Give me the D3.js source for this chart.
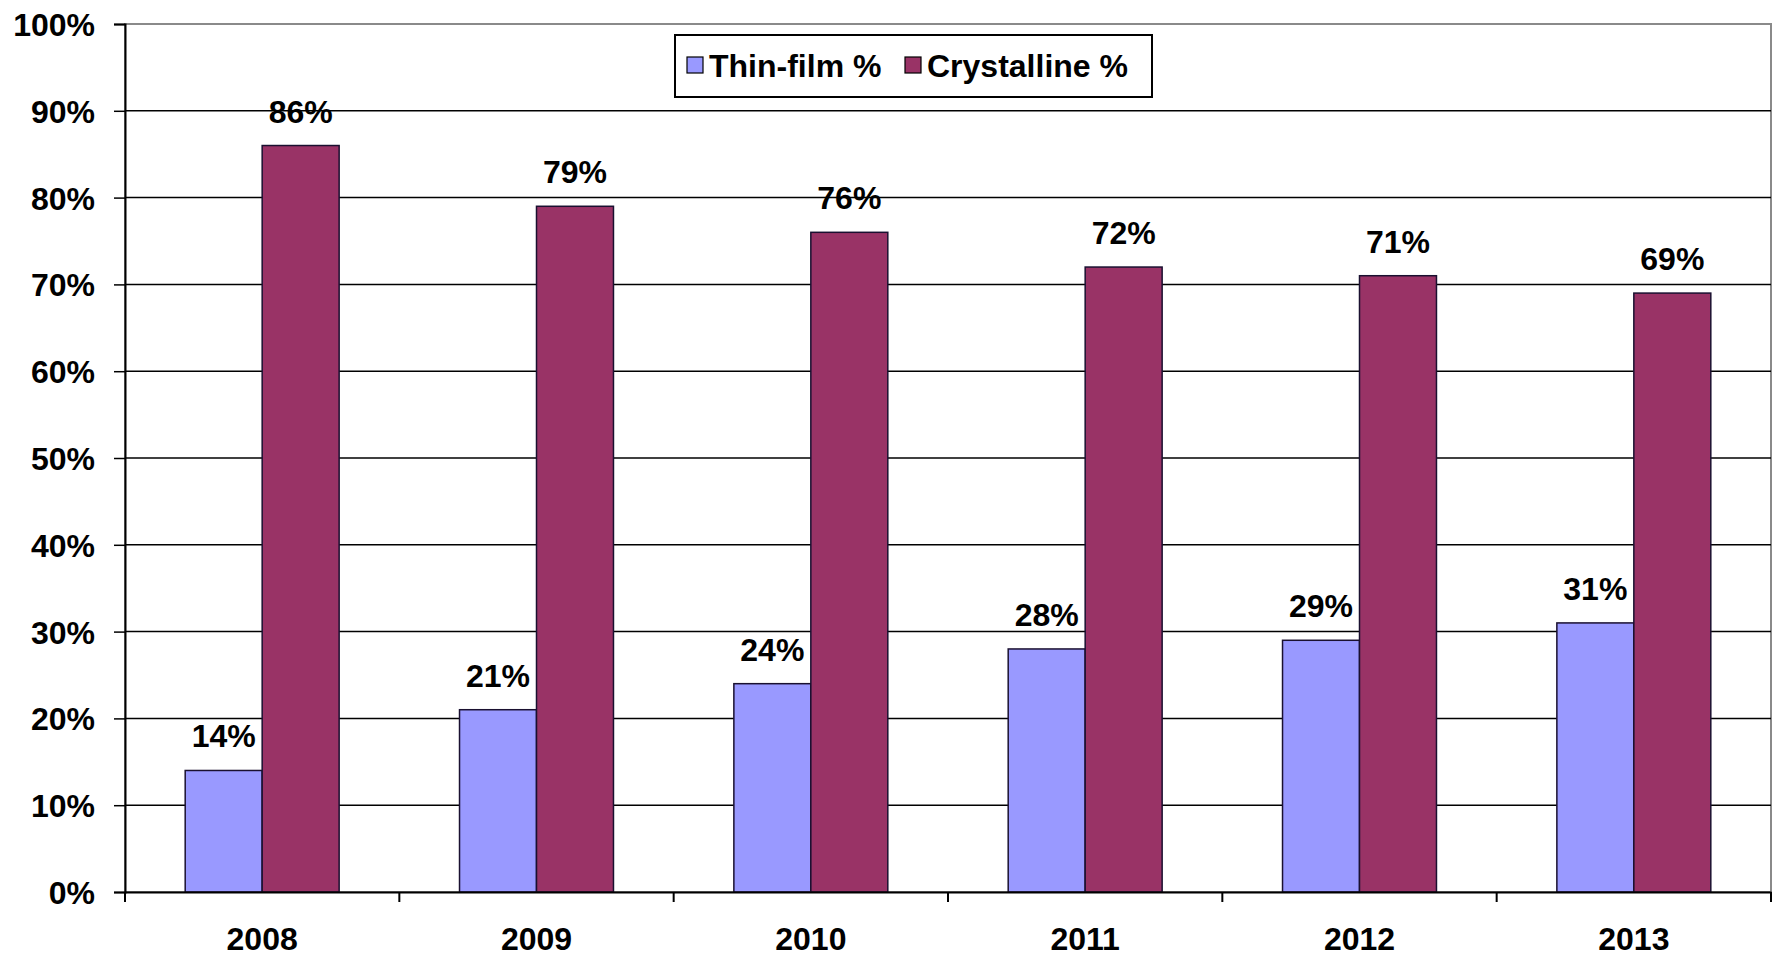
<!DOCTYPE html>
<html>
<head>
<meta charset="utf-8">
<script src="https://cdn.jsdelivr.net/npm/d3@7"></script>
<style>
  html, body { margin: 0; padding: 0; background: #fff; }
  svg { display: block; }
  text { font-family: "Liberation Sans", Arial, sans-serif; font-weight: bold; fill: #000; }
</style>
</head>
<body>
<svg id="chart" width="1775" height="956"></svg>
<script>
// Market share of PV technologies by year
const years = ["2008", "2009", "2010", "2011", "2012", "2013"];
const thinFilm = [14, 21, 24, 28, 29, 31];
const crystalline = [86, 79, 76, 72, 71, 69];
const seriesNames = ["Thin-film %", "Crystalline %"];
const seriesColors = ["#9999FF", "#993366"];
const yTicks = [0, 10, 20, 30, 40, 50, 60, 70, 80, 90, 100];

const FS = 32;
const svg = d3.select("#chart");
const margin = { left: 125, right: 4, top: 24, bottom: 64 };
const W = 1775, H = 956;
const x0 = margin.left, x1 = W - margin.right;
const y0 = H - margin.bottom, y1 = margin.top;

const x = d3.scaleBand().domain(years).range([x0, x1]).paddingInner(0).paddingOuter(0);
const inner = d3.scaleBand().domain(seriesNames).range([0, x.bandwidth()]).paddingInner(0).paddingOuter(0.782);
const y = d3.scaleLinear().domain([0, 100]).range([y0, y1]);

// plot frame (top & right)
svg.append("rect")
  .attr("x", x0).attr("y", y1).attr("width", x1 - x0).attr("height", y0 - y1)
  .attr("fill", "none").attr("stroke", "#8a8a8a").attr("stroke-width", 2);

// gridlines
svg.append("g").selectAll("line").data(yTicks.filter(d => d > 0 && d < 100)).join("line")
  .attr("x1", x0).attr("x2", x1)
  .attr("y1", d => y(d)).attr("y2", d => y(d))
  .attr("stroke", "#000").attr("stroke-width", 1.5);

// bars
const groups = svg.append("g").selectAll("g").data(years).join("g")
  .attr("transform", d => `translate(${x(d)},0)`);

const rows = years.map((yr, i) => [
  { s: seriesNames[0], v: thinFilm[i], c: seriesColors[0] },
  { s: seriesNames[1], v: crystalline[i], c: seriesColors[1] }
]);

groups.each(function(yr, i) {
  const g = d3.select(this);
  g.selectAll("rect").data(rows[i]).join("rect")
    .attr("x", d => inner(d.s))
    .attr("y", d => y(d.v))
    .attr("width", inner.bandwidth())
    .attr("height", d => y(0) - y(d.v))
    .attr("fill", d => d.c)
    .attr("stroke", "#1a1030").attr("stroke-width", 1.5);
  g.selectAll("text").data(rows[i]).join("text")
    .attr("x", d => inner(d.s) + inner.bandwidth() / 2)
    .attr("y", d => y(d.v) - 23)
    .attr("text-anchor", "middle")
    .attr("font-size", FS)
    .text(d => d.v + "%");
});

// y axis
const yAxis = svg.append("g")
  .attr("transform", `translate(${x0},0)`)
  .call(d3.axisLeft(y).tickValues(yTicks).tickFormat(d => d + "%").tickSize(11).tickPadding(19));
yAxis.select(".domain").attr("stroke", "#000").attr("stroke-width", 2);
yAxis.selectAll(".tick line").attr("stroke", "#000").attr("stroke-width", 1.5);
yAxis.selectAll(".tick text").attr("font-size", FS).attr("dy", "0.36em")
  .style("font-family", "'Liberation Sans', Arial, sans-serif").style("font-weight", "bold");

// x axis
const xAxis = svg.append("g")
  .attr("transform", `translate(0,${y0})`)
  .call(d3.axisBottom(x).tickSize(0).tickPadding(35));
xAxis.select(".domain").attr("stroke", "#000").attr("stroke-width", 2);
xAxis.selectAll(".tick text").attr("font-size", FS)
  .style("font-family", "'Liberation Sans', Arial, sans-serif").style("font-weight", "bold");
// category boundary ticks
const bounds = years.map(d => x(d)).concat([x1]);
svg.append("g").selectAll("line").data(bounds).join("line")
  .attr("x1", d => d).attr("x2", d => d)
  .attr("y1", y0).attr("y2", y0 + 10)
  .attr("stroke", "#000").attr("stroke-width", 2);

// legend
const lg = svg.append("g").attr("transform", "translate(675,35)");
lg.append("rect").attr("width", 477).attr("height", 62)
  .attr("fill", "#fff").attr("stroke", "#000").attr("stroke-width", 2);
const legendX = [12, 230];
seriesNames.forEach((name, i) => {
  lg.append("rect").attr("x", legendX[i]).attr("y", 22).attr("width", 16).attr("height", 16)
    .attr("fill", seriesColors[i]).attr("stroke", "#000").attr("stroke-width", 1.2);
  lg.append("text").attr("x", legendX[i] + 22).attr("y", 42)
    .attr("font-size", FS).text(name);
});
</script>
</body>
</html>
